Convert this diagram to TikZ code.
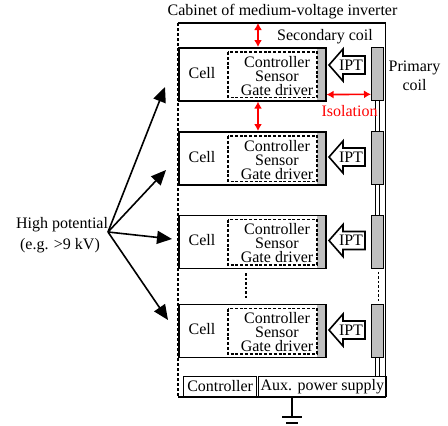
\documentclass[tikz,border=0pt]{standalone}
\usepackage{fontspec}
\setmainfont{Liberation Serif}
\usetikzlibrary{arrows.meta}
\definecolor{coilgray}{RGB}{191,191,191}
\definecolor{isored}{RGB}{255,0,0}
\newcommand\mvcell[2]{%
  \fill[coilgray] (317,#2) rectangle (325,{#2+53});
  \node[cellbox] (cell#1) at (178,#2) {};
  \draw[innerdash] (228,{#2+5}) rectangle (317,{#2+50.5});
  \node[txt, anchor=base] (celltxt#1) at (202,{#2+31.3}) {Cell};
  \node[txt, anchor=base] (ctrl#1) at (277,{#2+20}) {Controller};
  \node[txt, anchor=base] (sens#1) at (277,{#2+34}) {Sensor};
  \node[txt, anchor=base] (gate#1) at (277,{#2+48}) {Gate driver};
  \node[coilbox] (coil#1) at (371,#2) {};
}
\newcommand\iptarrow[2]{%
  \draw[iptshape] (329,#2) -- (343,{#2-16}) -- (343,{#2-9}) -- (365,{#2-9}) -- (365,{#2+9}) -- (343,{#2+9}) -- (343,{#2+16}) -- cycle;
  \node[txt, anchor=base] (ipt#1) at (351,{#2+5.3}) {IPT};
}
\begin{document}
\begin{tikzpicture}[x=1pt,y=-1pt,
  txt/.style={inner sep=0pt, font=\fontsize{16}{14}\selectfont},
  cellbox/.style={draw, line width=1.6pt, minimum width=147pt, minimum height=53pt, anchor=north west, inner sep=0pt},
  coilbox/.style={draw, fill=coilgray, line width=1.3pt, minimum width=12pt, minimum height=53pt, anchor=north west, inner sep=0pt},
  innerdash/.style={line width=1.4pt, dash pattern=on 3pt off 1.8pt},
  cabline/.style={line width=1.4pt},
  cabdash/.style={line width=1.4pt, dash pattern=on 3pt off 2pt},
  dotline/.style={line width=1.3pt, dash pattern=on 2.5pt off 2pt},
  iptshape/.style={draw, fill=white, line width=1.6pt, line join=miter},
  isoarrow/.style={draw=isored, line width=1.6pt, {Latex[length=7pt,width=8pt]}-{Latex[length=7pt,width=8pt]}},
  hparrow/.style={line width=1.6pt, -{Triangle[length=15pt,width=13pt]}},
  botbox/.style={draw, line width=1.3pt, inner sep=0pt, minimum height=20pt, anchor=south west, font=\fontsize{16}{14}\selectfont},
  dbl/.style={line width=1pt}
]
\useasboundingbox (0,0) rectangle (448,426);

% cabinet
\draw[cabline] (178,23) -- (385.5,23) -- (385.5,397) -- (178,397);
\draw[cabdash] (178,23) -- (178,397);
\node[txt, anchor=base] (title) at (282.5,15) {Cabinet of medium-voltage inverter};
\node[txt, anchor=base] (seccoil) at (325,40.5) {Secondary coil};
\node[txt, anchor=base] (prim1) at (414.5,71.5) {Primary};
\node[txt, anchor=base] (prim2) at (414.5,90) {coil};

% cells
\mvcell{1}{47}
\mvcell{2}{131}
\mvcell{3}{214.5}
\mvcell{4}{303.5}

\iptarrow{1}{65}
\iptarrow{2}{157}
\iptarrow{3}{240.5}
\iptarrow{4}{330}

% bottom boxes
\node[botbox, minimum width=73pt] (ctrlbox) at (183,397) {Controller};
\node[botbox, minimum width=127.5pt] (auxbox) at (258,397) {Aux. power supply};

% coil links
\foreach \a/\b in {1/2,2/3}{
  \draw[dbl] ([xshift=-2pt]coil\a.south) -- ([xshift=-2pt]coil\b.north);
  \draw[dbl] ([xshift=2pt]coil\a.south) -- ([xshift=2pt]coil\b.north);
}
\draw[dotline] ([xshift=1pt,yshift=-3pt]coil3.south) -- ([xshift=1pt,yshift=3pt]coil4.north);
\draw[dbl] ([xshift=-2pt]coil4.south) -- ([xshift=-2pt]coil4.south |- auxbox.north);
\draw[dbl] ([xshift=2pt]coil4.south) -- ([xshift=2pt]coil4.south |- auxbox.north);

% dotted between cell 3 and 4
\coordinate (dotx) at (246,0);
\draw[dotline] ([yshift=-4pt]cell3.south -| dotx) -- ([yshift=6pt]cell4.north -| dotx);

% red isolation arrows
\coordinate (isox) at (258,23);
\draw[isoarrow] (isox) -- (isox |- cell1.north);
\draw[isoarrow] (isox |- cell1.south) -- (isox |- cell2.north);
\draw[isoarrow] ([yshift=7pt]cell1.south east) -- ([yshift=7pt]coil1.south west);
\node[txt, anchor=base, text=isored] (isolation) at (349.5,116) {Isolation};

% ground
\coordinate (gnd) at (292,417);
\draw[line width=1.3pt] (auxbox.south -| gnd) -- (gnd);
\draw[line width=1.3pt] ([xshift=-10pt]gnd) -- ([xshift=10pt]gnd);
\draw[line width=1.3pt] ([xshift=-6pt,yshift=-6pt]gnd) -- ([xshift=6pt,yshift=-6pt]gnd);

% high potential
\node[txt, anchor=base] (hp1) at (62,228.5) {High potential};
\node[txt, anchor=base] (hp2) at (60,249) {(e.g. >9 kV)};
\coordinate (hp) at (108,232);
\coordinate (t1) at (165,87);
\coordinate (t2) at (166,170);
\coordinate (t3) at (172,239);
\coordinate (t4) at (168,320);
\foreach \t in {t1,t2,t3,t4}{\draw[hparrow] (hp) -- (\t);}
\end{tikzpicture}
\end{document}
